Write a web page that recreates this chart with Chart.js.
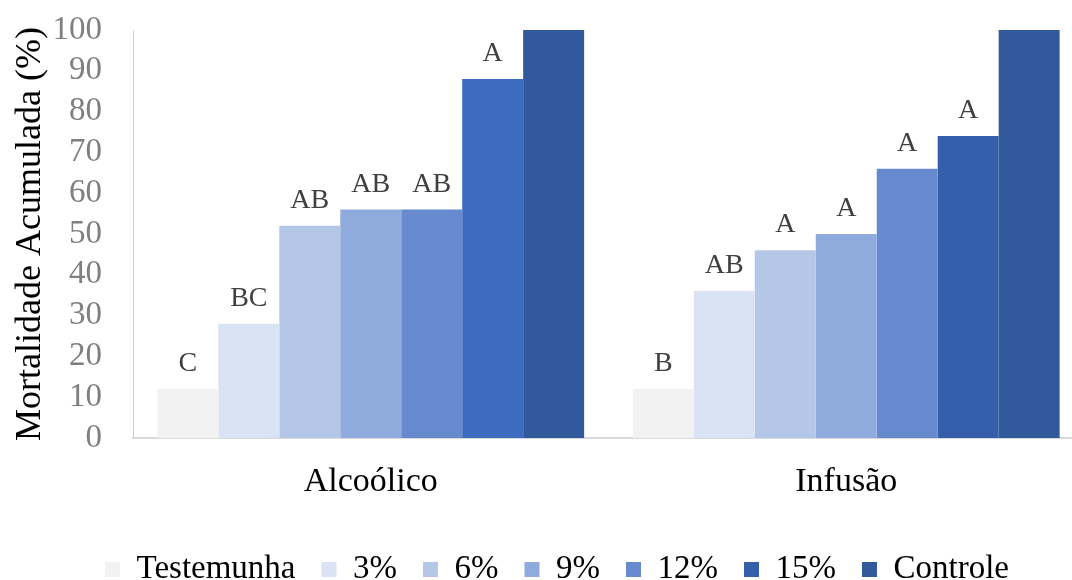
<!DOCTYPE html>
<html>
<head>
<meta charset="utf-8">
<script src="https://cdn.jsdelivr.net/npm/chart.js@4.4.1/dist/chart.umd.min.js"></script>
<style>
  html, body { margin: 0; padding: 0; background: #ffffff; overflow: hidden; }
  #frame { width: 1072px; height: 580px; overflow: hidden; position: relative; }
  #box { width: 1084px; height: 596px; position: absolute; left: 0; top: 0; }
</style>
</head>
<body>
<div id="frame"><div id="box"><canvas id="chart"></canvas></div></div>
<script>
// Extract types (categories) and treatment levels (series)
const categories = ['Alcoólico', 'Infusão'];
const seriesNames = ['Testemunha', '3%', '6%', '9%', '12%', '15%', 'Controle'];

// Cumulative mortality (%) per treatment, one value per extract type
const testemunha = [12, 12];
const dose3 = [28, 36];
const dose6 = [52, 46];
const dose9 = [56, 50];
const dose12 = [56, 66];
const dose15 = [88, 74];
const controle = [100, 100];

// Significance letters shown above each bar ('' = none)
const letTestemunha = ['C', 'B'];
const letDose3 = ['BC', 'AB'];
const letDose6 = ['AB', 'A'];
const letDose9 = ['AB', 'A'];
const letDose12 = ['AB', 'A'];
const letDose15 = ['A', 'A'];
const letControle = ['', ''];

const yTicks = [0, 10, 20, 30, 40, 50, 60, 70, 80, 90, 100];

const seriesValues = [testemunha, dose3, dose6, dose9, dose12, dose15, controle];
const seriesLetters = [letTestemunha, letDose3, letDose6, letDose9, letDose12, letDose15, letControle];
const seriesColors = [
  '#f2f2f2',
  '#dae3f3',
  '#b4c7e7',
  '#8faadc',
  '#6789cd',
  ['#3c6bc0', '#365fab'],
  '#31599c'
];
const legendColors = ['#f2f2f2', '#dae3f3', '#b4c7e7', '#8faadc', '#6789cd', '#365fab', '#31599c'];

const SERIF = "'Liberation Serif', 'Times New Roman', serif";

// Letters drawn above each bar
const letterPlugin = {
  id: 'letters',
  afterDatasetsDraw(chart) {
    const ctx = chart.ctx;
    ctx.save();
    ctx.font = '28px ' + SERIF;
    ctx.fillStyle = '#404040';
    ctx.textAlign = 'center';
    ctx.textBaseline = 'alphabetic';
    chart.data.datasets.forEach((ds, di) => {
      const meta = chart.getDatasetMeta(di);
      meta.data.forEach((bar, i) => {
        const txt = seriesLetters[di][i];
        if (txt) ctx.fillText(txt, bar.x, bar.y - 18);
      });
    });
    ctx.restore();
  }
};

// Nudge the legend row to the right of the canvas centre
const legendShift = {
  id: 'legendShift',
  afterLayout(chart) {
    if (chart.legend) {
      chart.legend.left += 15;
      chart.legend.right += 15;
    }
  }
};

new Chart(document.getElementById('chart'), {
  type: 'bar',
  data: {
    labels: categories,
    datasets: seriesNames.map((name, i) => ({
      label: name,
      data: seriesValues[i],
      backgroundColor: seriesColors[i],
      borderWidth: 0,
      categoryPercentage: 0.8975,
      barPercentage: 1.0
    }))
  },
  options: {
    responsive: true,
    maintainAspectRatio: false,
    animation: false,
    layout: { padding: { top: 10, left: 0, right: 0, bottom: 0 } },
    plugins: {
      tooltip: { enabled: false },
      legend: {
        position: 'bottom',
        labels: {
          boxWidth: 15,
          boxHeight: 15,
          padding: 26,
          color: '#000000',
          font: { family: SERIF, size: 33 },
          generateLabels(chart) {
            return chart.data.datasets.map((ds, i) => ({
              text: ds.label,
              fillStyle: legendColors[i],
              strokeStyle: legendColors[i],
              lineWidth: 0,
              hidden: false,
              datasetIndex: i
            }));
          }
        }
      }
    },
    scales: {
      x: {
        grid: { display: false, drawTicks: false },
        border: { display: true, color: '#d9d9d9', width: 2 },
        ticks: {
          color: '#000000',
          padding: 24,
          font: { family: SERIF, size: 34 }
        },
        afterFit(scale) { scale.height = 89; }
      },
      y: {
        min: 0,
        max: 100,
        afterBuildTicks(scale) { scale.ticks = yTicks.map(v => ({ value: v })); },
        grid: { display: false, drawTicks: false },
        border: { display: true, color: '#d0d0d0', width: 1 },
        ticks: {
          color: '#7f7f7f',
          padding: 31,
          autoSkip: false,
          font: { family: SERIF, size: 33 }
        },
        title: {
          display: true,
          text: 'Mortalidade Acumulada (%)',
          color: '#000000',
          padding: { top: 9, bottom: 0 },
          font: { family: SERIF, size: 36 }
        },
        afterFit(scale) {
          scale.width = 133;
          scale.paddingTop = 30;
          scale.paddingBottom = 0;
        }
      }
    }
  },
  plugins: [letterPlugin, legendShift]
});
</script>
</body>
</html>
